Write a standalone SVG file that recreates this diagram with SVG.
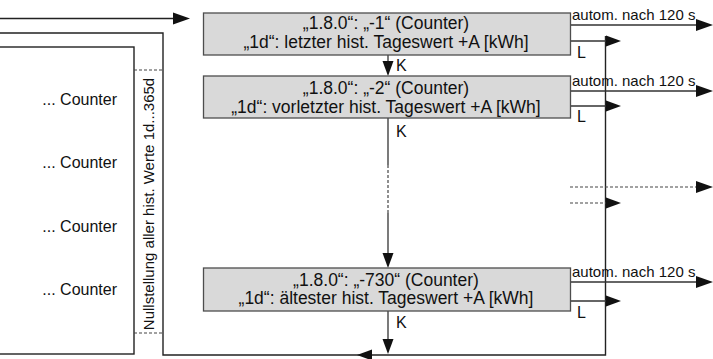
<svg xmlns="http://www.w3.org/2000/svg" width="713" height="359" viewBox="0 0 713 359">
<style>
text{font-family:"Liberation Sans",Arial,sans-serif;fill:#111}
.bt{font-size:17.5px;text-anchor:middle}
.ct{font-size:16px;text-anchor:end}
.at{font-size:15px}
.kl{font-size:16px}
.box{fill:#d9d9d9;stroke:#4d4d4d;stroke-width:1.3}
.ln{fill:none;stroke:#333;stroke-width:1.3}
.fr{fill:none;stroke:#222;stroke-width:1.4}
.dt{fill:none;stroke:#444;stroke-width:1.2;stroke-dasharray:3 2}
.ah{fill:#111}
</style>
<defs>
<polygon id="ar" points="0,0 -17,-6 -17,6"/>
<polygon id="as" points="0,0 -15,-5.5 -15,5.5"/>
</defs>
<g id="connectors">
<path class="fr" d="M0,18.5 H176"/>
<use href="#ar" class="ah" transform="translate(190,18.5)"/>
<path class="fr" d="M0,33 H163 V355 H605.5 V36"/>
<use href="#as" class="ah" transform="translate(357,355) rotate(180)"/>
<path class="ln" d="M388,55 V64"/>
<use href="#as" class="ah" transform="translate(388,76) rotate(90)"/>
<path class="ln" d="M388,118 V165"/>
<path class="dt" d="M388,165 V213"/>
<path class="ln" d="M388,213 V255"/>
<use href="#as" class="ah" transform="translate(388,268) rotate(90)"/>
<path class="ln" d="M388,311 V340"/>
<use href="#as" class="ah" transform="translate(388,354) rotate(90)"/>
<path class="ln" d="M570,25 H698"/>
<use href="#ar" class="ah" transform="translate(713,25)"/>
<path class="ln" d="M570,41 H607"/>
<use href="#as" class="ah" transform="translate(621,41)"/>
<path class="ln" d="M570,91 H698"/>
<use href="#ar" class="ah" transform="translate(713,91)"/>
<path class="ln" d="M570,106 H607"/>
<use href="#as" class="ah" transform="translate(621,106)"/>
<path class="dt" d="M570,187 H698"/>
<use href="#ar" class="ah" transform="translate(713,187)"/>
<path class="dt" d="M570,203 H607"/>
<use href="#as" class="ah" transform="translate(621,203)"/>
<path class="ln" d="M570,282 H698"/>
<use href="#ar" class="ah" transform="translate(713,282)"/>
<path class="ln" d="M570,301 H607"/>
<use href="#as" class="ah" transform="translate(621,301)"/>
</g>
<g id="counters">
<rect x="-2" y="47" width="136" height="307" fill="#fff" stroke="#222" stroke-width="1.4"/>
<text class="ct" x="117" y="105">... Counter</text>
<text class="ct" x="117" y="168">... Counter</text>
<text class="ct" x="117" y="232">... Counter</text>
<text class="ct" x="117" y="295">... Counter</text>
</g>
<g id="reset">
<path class="dt" d="M134,70 H163 M134,333 H163"/>
<text class="at" text-anchor="middle" transform="translate(154,204) rotate(-90)">Nullstellung aller hist. Werte 1d...365d</text>
</g>
<g id="box1">
<rect class="box" x="203.5" y="13" width="367" height="42"/>
<text class="bt" x="386" y="29">„1.8.0“: „-1“ (Counter)</text>
<text class="bt" x="386" y="47.5">„1d“: letzter hist. Tageswert +A [kWh]</text>
</g>
<g id="box2">
<rect class="box" x="203.5" y="76" width="367" height="42"/>
<text class="bt" x="386" y="94">„1.8.0“: „-2“ (Counter)</text>
<text class="bt" x="386" y="112.5">„1d“: vorletzter hist. Tageswert +A [kWh]</text>
</g>
<g id="box3">
<rect class="box" x="203.5" y="268" width="367" height="43"/>
<text class="bt" x="386" y="285.5">„1.8.0“: „-730“ (Counter)</text>
<text class="bt" x="386" y="304">„1d“: ältester hist. Tageswert +A [kWh]</text>
</g>
<g id="labels">
<text class="at" x="572" y="20">autom. nach 120 s</text>
<text class="at" x="572" y="86">autom. nach 120 s</text>
<text class="at" x="572" y="277">autom. nach 120 s</text>
<text class="kl" x="577" y="58">L</text>
<text class="kl" x="577" y="122">L</text>
<text class="kl" x="577" y="318">L</text>
<text class="kl" x="396" y="71">K</text>
<text class="kl" x="396" y="137">K</text>
<text class="kl" x="396" y="328">K</text>
</g>
</svg>
